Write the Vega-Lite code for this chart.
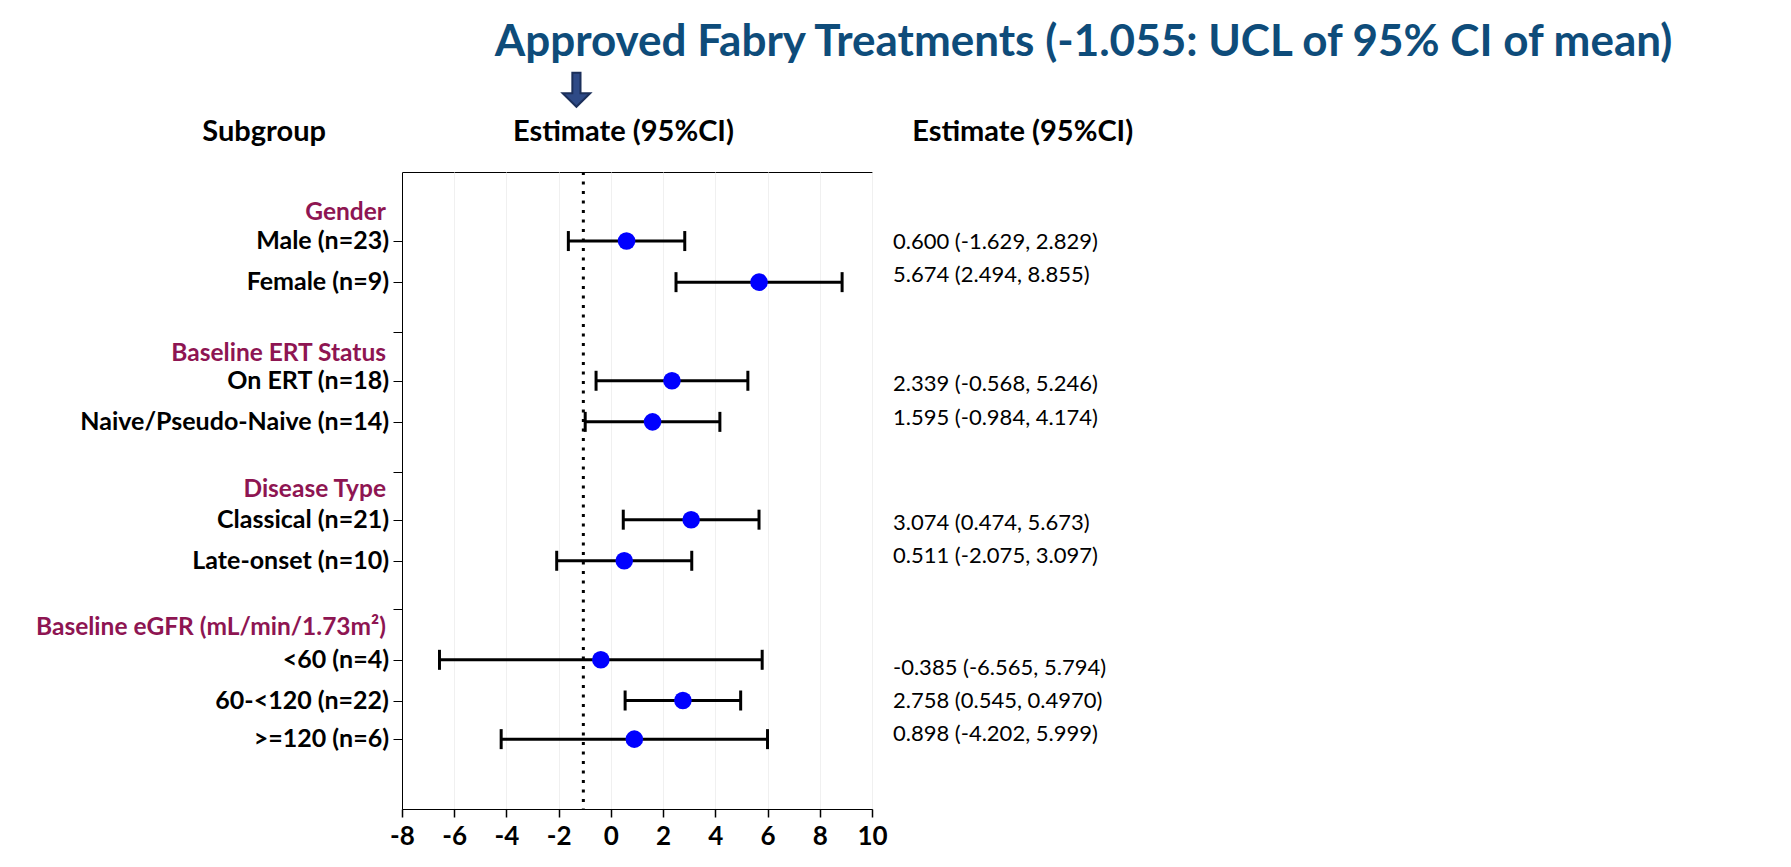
{
  "$schema": "https://vega.github.io/schema/vega-lite/v6.json",
  "width": 470,
  "height": 637,
  "autosize": {"type": "none"},
  "padding": {"left": 402, "top": 172, "right": 919, "bottom": 58},
  "background": "white",
  "config": {"font": "Lato", "view": {"stroke": "black", "strokeWidth": 1}},
  "datasets": {
    "forest": [
      {"label": "Male (n=23)", "est": 0.600, "lo": -1.629, "hi": 2.829, "row": 1.68, "trow": 1.70, "txt": "0.600 (-1.629, 2.829)"},
      {"label": "Female (n=9)", "est": 5.674, "lo": 2.494, "hi": 8.855, "row": 2.68, "trow": 2.51, "txt": "5.674 (2.494, 8.855)"},
      {"label": "On ERT (n=18)", "est": 2.339, "lo": -0.568, "hi": 5.246, "row": 5.08, "trow": 5.16, "txt": "2.339 (-0.568, 5.246)"},
      {"label": "Naive/Pseudo-Naive (n=14)", "est": 1.595, "lo": -0.984, "hi": 4.174, "row": 6.08, "trow": 5.98, "txt": "1.595 (-0.984, 4.174)"},
      {"label": "Classical (n=21)", "est": 3.074, "lo": 0.474, "hi": 5.673, "row": 8.46, "trow": 8.54, "txt": "3.074 (0.474, 5.673)"},
      {"label": "Late-onset (n=10)", "est": 0.511, "lo": -2.075, "hi": 3.097, "row": 9.46, "trow": 9.34, "txt": "0.511 (-2.075, 3.097)"},
      {"label": "<60 (n=4)", "est": -0.385, "lo": -6.565, "hi": 5.794, "row": 11.87, "trow": 12.07, "txt": "-0.385 (-6.565, 5.794)"},
      {"label": "60-<120 (n=22)", "est": 2.758, "lo": 0.545, "hi": 4.970, "row": 12.86, "trow": 12.87, "txt": "2.758 (0.545, 0.4970)"},
      {"label": ">=120 (n=6)", "est": 0.898, "lo": -4.202, "hi": 5.999, "row": 13.80, "trow": 13.67, "txt": "0.898 (-4.202, 5.999)"}
    ],
    "groups": [
      {"group": "Gender", "row": 1.0},
      {"group": "Baseline ERT Status", "row": 4.42},
      {"group": "Disease Type", "row": 7.74},
      {"group": "Baseline eGFR (mL/min/1.73m²)", "row": 11.1}
    ]
  },
  "layer": [
    {
      "data": {"name": "forest"},
      "mark": {"type": "rule", "color": "black", "strokeWidth": 3},
      "encoding": {
        "x": {"field": "lo", "type": "quantitative", "title": null,
          "scale": {"domain": [-8, 10], "nice": false, "zero": false},
          "axis": {
            "values": [-8, -7, -6, -5, -4, -3, -2, -1, 0, 1, 2, 3, 4, 5, 6, 7, 8, 9, 10],
            "grid": true, "gridColor": "#f0f0f0", "gridWidth": 1,
            "domainColor": "black", "tickColor": "black", "tickWidth": 1.5,
            "tickSize": {"condition": {"test": "datum.value % 2 == 0", "value": 8}, "value": 4},
            "labelExpr": "datum.value % 2 == 0 ? '' + datum.value : ''",
            "labelFont": "Lato", "labelFontWeight": "bold", "labelFontSize": 26,
            "labelColor": "black", "labelPadding": 6, "labelFlush": false, "labelOverlap": false
          }},
        "x2": {"field": "hi"},
        "y": {"field": "row", "type": "quantitative", "title": null,
          "scale": {"domain": [0, 15.5], "nice": false, "zero": false, "reverse": true},
          "axis": {
            "values": [1.68, 2.68, 3.89, 5.08, 6.08, 7.29, 8.46, 9.46, 10.64, 11.87, 12.86, 13.80],
            "labels": false, "grid": false, "domainColor": "black",
            "tickColor": "black", "tickSize": 9
          }}
      }
    },
    {
      "data": {"values": [{}]},
      "mark": {"type": "rule", "color": "black", "strokeWidth": 3, "strokeDash": [3, 6.5]},
      "encoding": {
        "x": {"datum": -1.055, "type": "quantitative", "title": null}
      }
    },
    {
      "data": {"name": "forest"},
      "mark": {"type": "tick", "orient": "vertical", "size": 20, "thickness": 3, "color": "black", "opacity": 1},
      "encoding": {
        "x": {"field": "lo", "type": "quantitative", "title": null},
        "y": {"field": "row", "type": "quantitative", "title": null}
      }
    },
    {
      "data": {"name": "forest"},
      "mark": {"type": "tick", "orient": "vertical", "size": 20, "thickness": 3, "color": "black", "opacity": 1},
      "encoding": {
        "x": {"field": "hi", "type": "quantitative", "title": null},
        "y": {"field": "row", "type": "quantitative", "title": null}
      }
    },
    {
      "data": {"name": "forest"},
      "mark": {"type": "point", "shape": "circle", "filled": true, "color": "#0000ff", "size": 310, "opacity": 1},
      "encoding": {
        "x": {"field": "est", "type": "quantitative", "title": null},
        "y": {"field": "row", "type": "quantitative", "title": null}
      }
    },
    {
      "data": {"name": "forest"},
      "mark": {"type": "text", "align": "right", "baseline": "middle", "dx": -13, "fontSize": 25, "fontWeight": "bold", "color": "black"},
      "encoding": {
        "x": {"datum": -8, "type": "quantitative", "title": null},
        "y": {"field": "row", "type": "quantitative", "title": null},
        "text": {"field": "label"}
      }
    },
    {
      "data": {"name": "groups"},
      "mark": {"type": "text", "align": "right", "baseline": "middle", "dx": -16, "fontSize": 24.5, "fontWeight": "bold", "color": "#8e1552"},
      "encoding": {
        "x": {"datum": -8, "type": "quantitative", "title": null},
        "y": {"field": "row", "type": "quantitative", "title": null},
        "text": {"field": "group"}
      }
    },
    {
      "data": {"name": "forest"},
      "mark": {"type": "text", "align": "left", "baseline": "middle", "dx": 21, "fontSize": 22, "color": "black"},
      "encoding": {
        "x": {"datum": 10, "type": "quantitative", "title": null},
        "y": {"field": "trow", "type": "quantitative", "title": null},
        "text": {"field": "txt"}
      }
    },
    {
      "data": {"values": [{}]},
      "mark": {"type": "text", "text": "Subgroup", "align": "center", "baseline": "middle", "fontSize": 29, "fontWeight": "bold", "color": "black"},
      "encoding": {
        "x": {"datum": -13.28, "type": "quantitative", "title": null},
        "y": {"datum": -0.97, "type": "quantitative", "title": null}
      }
    },
    {
      "data": {"values": [{}]},
      "mark": {"type": "text", "text": "Estimate (95%CI)", "align": "center", "baseline": "middle", "fontSize": 29, "fontWeight": "bold", "color": "black"},
      "encoding": {
        "x": {"datum": 0.48, "type": "quantitative", "title": null},
        "y": {"datum": -0.97, "type": "quantitative", "title": null}
      }
    },
    {
      "data": {"values": [{}]},
      "mark": {"type": "text", "text": "Estimate (95%CI)", "align": "center", "baseline": "middle", "fontSize": 29, "fontWeight": "bold", "color": "black"},
      "encoding": {
        "x": {"datum": 15.77, "type": "quantitative", "title": null},
        "y": {"datum": -0.97, "type": "quantitative", "title": null}
      }
    },
    {
      "data": {"values": [{}]},
      "mark": {"type": "text", "text": "Approved Fabry Treatments (-1.055: UCL of 95% CI of mean)", "align": "center", "baseline": "middle", "fontSize": 44, "fontWeight": "bold", "color": "#0e4c7a"},
      "encoding": {
        "x": {"datum": 18.1, "type": "quantitative", "title": null},
        "y": {"datum": -3.14, "type": "quantitative", "title": null}
      }
    },
    {
      "data": {"values": [{}]},
      "mark": {"type": "point", "shape": "M-0.24,-1L0.24,-1L0.24,0.2L0.81,0.2L0,1L-0.81,0.2L-0.24,0.2Z", "filled": true, "fill": "#2e4a86", "stroke": "#1b2f5a", "strokeWidth": 2, "size": 1156, "opacity": 1},
      "encoding": {
        "x": {"datum": -1.32, "type": "quantitative", "title": null},
        "y": {"datum": -2.0, "type": "quantitative", "title": null}
      }
    }
  ]
}
